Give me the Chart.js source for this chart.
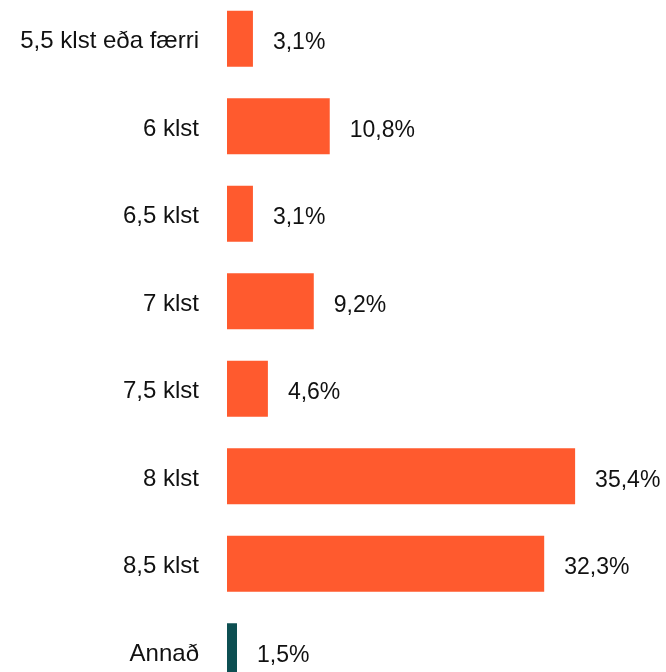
<!DOCTYPE html>
<html>
<head>
<meta charset="utf-8">
<script src="https://cdn.jsdelivr.net/npm/chart.js@4/dist/chart.umd.min.js"></script>
<style>
  html, body { margin: 0; padding: 0; background: #fff; overflow: hidden; }
  #wrap { width: 666px; height: 700px; margin-top: -5px; }
</style>
</head>
<body>
<div id="wrap"><canvas id="c" width="666" height="700"></canvas></div>
<script>
const categories = ["5,5 klst eða færri", "6 klst", "6,5 klst", "7 klst", "7,5 klst", "8 klst", "8,5 klst", "Annað"];
const values = [3.1, 10.8, 3.1, 9.2, 4.6, 35.4, 32.3, 1.5];
const barColors = ["#FF5A2E", "#FF5A2E", "#FF5A2E", "#FF5A2E", "#FF5A2E", "#FF5A2E", "#FF5A2E", "#0D4F52"];

const FONT = "'Liberation Sans', Arial, sans-serif";

const valueLabels = {
  id: 'valueLabels',
  afterDatasetsDraw(chart) {
    const ctx = chart.ctx;
    const meta = chart.getDatasetMeta(0);
    ctx.save();
    ctx.font = "23px " + FONT;
    ctx.fillStyle = "#111";
    ctx.textAlign = "left";
    ctx.textBaseline = "middle";
    meta.data.forEach((bar, i) => {
      const txt = values[i].toFixed(1).replace('.', ',') + '%';
      ctx.fillText(txt, bar.x + 20, bar.y + 4);
    });
    ctx.restore();
  }
};

new Chart(document.getElementById('c'), {
  type: 'bar',
  data: {
    labels: categories,
    datasets: [{
      data: values,
      backgroundColor: barColors,
      borderWidth: 0,
      barPercentage: 0.8,
      categoryPercentage: 0.8
    }]
  },
  options: {
    indexAxis: 'y',
    responsive: false,
    animation: false,
    devicePixelRatio: 1,
    layout: { padding: { left: 0, right: 45, top: 0, bottom: 0 } },
    plugins: { legend: { display: false }, tooltip: { enabled: false } },
    scales: {
      x: { display: false, min: 0.5, max: 40 },
      y: {
        grid: { display: false, drawTicks: false },
        border: { display: false },
        ticks: { color: "#111", font: { family: FONT, size: 24 }, padding: 28, labelOffset: 3 },
        afterFit(scale) { scale.width = 227; scale.paddingTop = 0; scale.paddingBottom = 0; }
      }
    }
  },
  plugins: [valueLabels]
});
</script>
</body>
</html>
